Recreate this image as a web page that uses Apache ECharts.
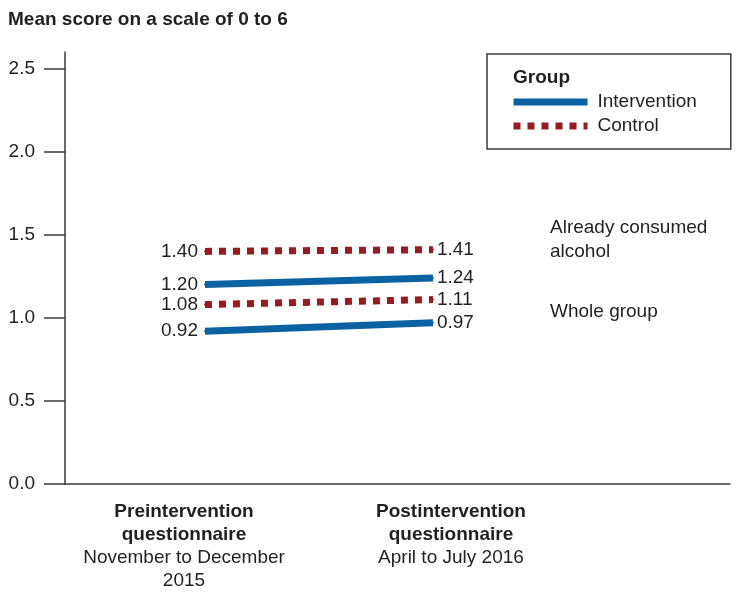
<!DOCTYPE html>
<html>
<head>
<meta charset="utf-8">
<script src="https://cdn.jsdelivr.net/npm/echarts@6/dist/echarts.min.js"></script>
<style>
html,body{margin:0;padding:0;background:#fff;}
#chart{width:740px;height:601px;}
</style>
</head>
<body>
<div id="chart"></div>
<script>
// ---- data ----
const titleText = 'Mean score on a scale of 0 to 6';
const categoryNames = ['Preintervention\nquestionnaire', 'Postintervention\nquestionnaire'];
const categoryDates = ['November to December\n2015', 'April to July 2016'];
const yTicks = [0, 0.5, 1.0, 1.5, 2.0, 2.5];
const interventionAlcohol = [1.20, 1.24];
const interventionWhole = [0.92, 0.97];
const controlAlcohol = [1.40, 1.41];
const controlWhole = [1.08, 1.11];
const groupNames = ['Intervention', 'Control'];
const subgroupLabels = ['Already consumed\nalcohol', 'Whole group'];
const legendTitle = 'Group';

// ---- styling ----
const FONT = '"Liberation Sans", Arial, sans-serif';
const TXT = '#231f20';
const BLUE = '#0b62a3';
const RED = '#9b1a1f';
const AX = '#3a3a3a';
const DASH = [7, 7];

const labelXPositions = [0.908, 2.079];

function mkData(vals) {
  return vals.map((v, i) => ({
    value: [i + 1, v],
    label: {
      show: true,
      position: i === 0 ? 'left' : 'right',
      distance: i === 0 ? 6 : 3,
      formatter: (p) => p.value[1].toFixed(2),
      fontSize: 19, fontFamily: FONT, color: TXT
    }
  }));
}
function mkSeries(name, vals, color, dashed) {
  return {
    type: 'line', name: name, data: mkData(vals),
    symbol: 'circle', symbolSize: 2,
    itemStyle: { color: color },
    lineStyle: { color: color, width: 7, type: dashed ? DASH : 'solid', cap: 'butt' },
    emphasis: { disabled: true }, animation: false, z: 3
  };
}

const chart = echarts.init(document.getElementById('chart'), null, { renderer: 'canvas' });
const option = {
  backgroundColor: '#fff',
  animation: false,
  title: {
    text: titleText, left: 8, top: 9, padding: 0,
    textStyle: { fontSize: 19, fontWeight: 'bold', fontFamily: FONT, color: TXT, lineHeight: 22 }
  },
  grid: { left: 65, right: 10, top: 52, bottom: 117, containLabel: false },
  xAxis: {
    type: 'value', min: 0.386, max: 3.303,
    axisLine: { show: true, lineStyle: { color: AX, width: 1.5 } },
    axisTick: { show: false },
    splitLine: { show: false },
    axisLabel: {
      customValues: labelXPositions,
      margin: 16,
      formatter: (v) => {
        const i = v < 1.5 ? 0 : 1;
        const b = categoryNames[i].split('\n').map(s => '{b|' + s + '}');
        const n = categoryDates[i].split('\n').map(s => '{n|' + s + '}');
        return b.concat(n).join('\n');
      },
      rich: {
        b: { fontSize: 19, fontWeight: 'bold', fontFamily: FONT, color: TXT, lineHeight: 23, align: 'center' },
        n: { fontSize: 19, fontFamily: FONT, color: TXT, lineHeight: 23, align: 'center' }
      }
    }
  },
  yAxis: {
    type: 'value', min: 0, max: 2.6, interval: 0.5,
    axisLine: { show: true, lineStyle: { color: AX, width: 1.5 } },
    axisTick: { show: true, customValues: yTicks, length: 21, inside: false, lineStyle: { color: AX, width: 1.5 } },
    splitLine: { show: false },
    axisLabel: {
      customValues: yTicks, margin: 30,
      formatter: (v) => v.toFixed(1),
      fontSize: 19, fontFamily: FONT, color: TXT
    }
  },
  legend: {
    data: [
      { name: groupNames[0], lineStyle: { width: 7, type: 'solid', color: BLUE } },
      { name: groupNames[1], lineStyle: { width: 7, type: DASH, color: RED } }
    ],
    orient: 'vertical', left: 487, top: 54,
    align: 'left',
    width: 244,
    padding: [36, 34, 11, 23],
    itemWidth: 74, itemHeight: 24, itemGap: 0,
    borderColor: AX, borderWidth: 1.5,
    itemStyle: { opacity: 0 },
    textStyle: { fontSize: 19, fontFamily: FONT, color: TXT, lineHeight: 24, padding: [0, 0, 0, 5] },
    selectedMode: false
  },
  graphic: [
    { type: 'text', left: 513, top: 68, style: { text: legendTitle, font: 'bold 19px ' + FONT, fill: TXT } },
    { type: 'text', left: 550, top: 216, style: { text: subgroupLabels[0], font: '19px ' + FONT, fill: TXT, lineHeight: 24 } },
    { type: 'text', left: 550, top: 300, style: { text: subgroupLabels[1], font: '19px ' + FONT, fill: TXT, lineHeight: 24 } }
  ],
  series: [
    mkSeries(groupNames[0], interventionAlcohol, BLUE, false),
    mkSeries(groupNames[0], interventionWhole, BLUE, false),
    mkSeries(groupNames[1], controlAlcohol, RED, true),
    mkSeries(groupNames[1], controlWhole, RED, true)
  ]
};
chart.setOption(option);
</script>
</body>
</html>
